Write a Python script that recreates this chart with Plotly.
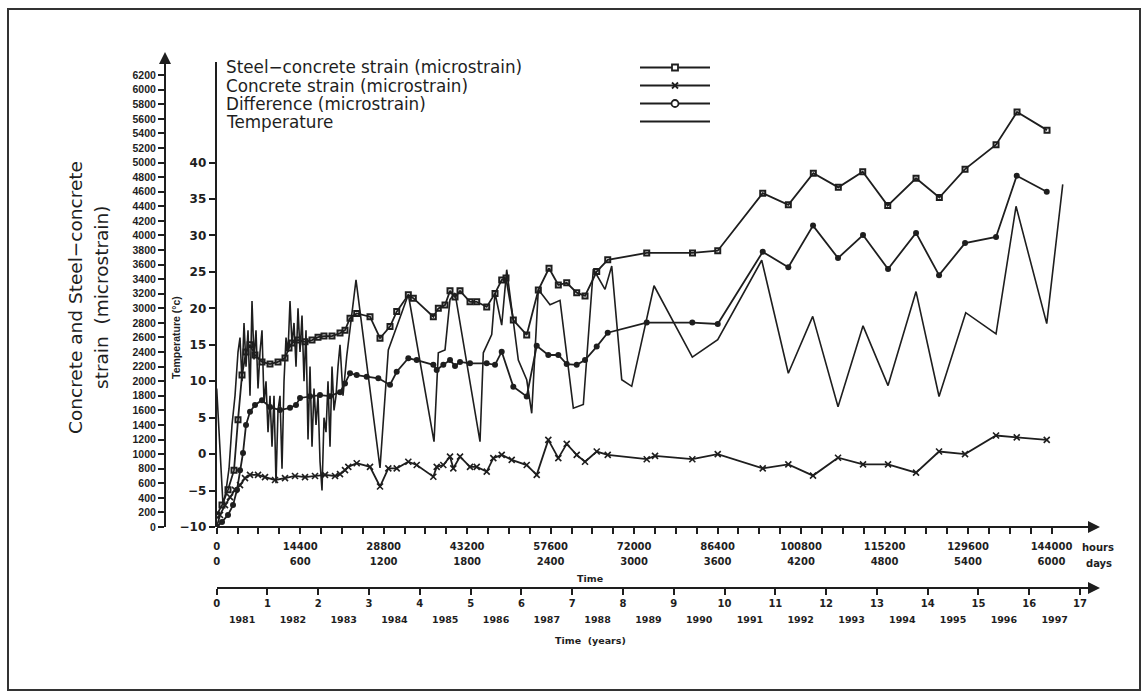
import plotly.graph_objects as go

# ---------------- data ----------------
# time in hours
steel_h = [0, 914, 1949, 2984, 3674, 4364, 5054, 5744, 6607, 7814, 9194, 10574, 11782, 12472,
           12990, 14024, 15232, 16439, 17474, 18509, 19889, 21269, 22132, 22994, 24150, 26444,
           28169, 29894, 31050, 33051, 33914, 37364, 38226, 39382, 40244, 41107, 41969, 43694,
           44850, 46575, 48007, 49163, 49904, 51163, 53475, 55476, 57322, 58926, 60375, 62100,
           63532, 65550, 67448, 74175, 82076, 86423, 94185, 98601, 102914, 107226, 111435,
           115748, 120629, 124649, 129082, 134429, 138052, 143227]
steel_s = [165, 300, 510, 780, 1470, 2085, 2400, 2500, 2360, 2265, 2235, 2265, 2320, 2455,
           2525, 2565, 2540, 2565, 2605, 2620, 2620, 2660, 2700, 2865, 2930, 2885,
           2590, 2750, 2955, 3185, 3140, 2885, 3000, 3045, 3240, 3155, 3240, 3090,
           3090, 3020, 3205, 3390, 3415, 2840, 2635, 3250, 3550, 3320, 3350, 3215,
           3170, 3505, 3665, 3760, 3760, 3790, 4580, 4420, 4855, 4660, 4875,
           4410, 4785, 4520, 4910, 5245, 5695, 5445]

diff_h = [0, 914, 1949, 2812, 3502, 4019, 4537, 5054, 5744, 6607, 7814, 9194, 10919, 12644,
          13679, 14369, 16094, 17819, 19544, 21269, 22132, 22994, 24150, 25875, 27876, 29894,
          31050, 33051, 34500, 37364, 37950, 39089, 40244, 41107, 41969, 43694, 46575, 48007,
          49163, 51163, 53475, 55200, 57201, 58926, 60375, 62100, 63532, 65550, 67448, 74175,
          82041, 86423, 94185, 98601, 102862, 107174, 111487, 115800, 120630, 124597, 129082,
          134429, 138000, 143175]
diff_s = [0, 70, 165, 300, 510, 780, 1015, 1400, 1580, 1675, 1740, 1645, 1605, 1635,
          1675, 1770, 1795, 1810, 1795, 1850, 1970, 2110, 2085, 2060, 2040, 1950,
          2130, 2315, 2290, 2225, 2155, 2225, 2290, 2210, 2265, 2245, 2245, 2225,
          2405, 1925, 1790, 2485, 2360, 2360, 2235, 2225, 2290, 2475, 2665, 2805,
          2805, 2785, 3775, 3565, 4135, 3690, 4005, 3540, 4035, 3455, 3895,
          3980, 4820, 4600]

conc_h = [0, 569, 1432, 2294, 3157, 4019, 4882, 5744, 7124, 8332, 10057, 11782, 13507, 15232,
          16957, 18682, 20407, 21269, 22132, 22701, 24150, 26444, 28169, 29601, 31050, 33051,
          34500, 37364, 37950, 39089, 40244, 40814, 41969, 43694, 44850, 46575, 47714, 49163,
          50888, 53475, 55200, 57201, 58926, 60375, 62100, 63532, 65550, 67448, 74175, 75607,
          82041, 86423, 94185, 98601, 102862, 107174, 111487, 115800, 120630, 124597, 129082,
          134429, 138000, 143175]
conc_s = [0, 165, 300, 410, 510, 575, 670, 715, 715, 685, 645, 670, 700, 685,
          700, 715, 700, 725, 780, 825, 875, 825, 555, 805, 805, 895,
          850, 690, 825, 850, 965, 805, 965, 825, 825, 760, 945, 990,
          920, 850, 715, 1195, 945, 1140, 990, 895, 1035, 990, 930, 975,
          930, 1000, 805, 860, 705, 950, 860, 860, 745, 1035, 1000,
          1255, 1230, 1195]

temp_h = [0, 397, 742, 1087, 1604, 2122, 2639, 3157, 3674, 4019, 4364, 4709, 5054, 5399,
          5744, 6089, 6434, 6779, 7124, 7469, 7814, 8159, 8504, 8849, 9194, 9539, 9884,
          10229, 10574, 10919, 11264, 11609, 11954, 12299, 12644, 12989, 13334, 13679, 14024,
          14369, 14714, 15059, 15404, 15749, 16094, 16439, 16784, 17129, 17474, 17819, 18164,
          18509, 18854, 19199, 19544, 19889, 20234, 20579, 20924, 21269, 21786, 22425, 24029,
          28169, 29601, 33051, 37484, 38226, 39382, 40244, 41107, 45419, 45988, 47438, 48007,
          49163, 50025, 52026, 53475, 54338, 55476, 57494, 59219, 61514, 63239, 64964, 66982,
          68138, 69863, 71588, 75434, 82041, 86423, 94013, 98601, 102810, 107174, 111487,
          115800, 120630, 124597, 129203, 134429, 137879, 143175, 145935]
temp_c = [9, 3, -3, -7, -5, -2, 4, 8, 14, 16, 10, 18, 12, 17,
          8, 21, 13, 17, 9, 14, 17, 7, 10, 3, 8, 1, 8,
          -4, 6, 8, -2, 10, 16, 14, 21, 15, 18, 12, 20,
          14, 19, 10, 17, 2, 12, 1, 9, 4, 8, -1, -5,
          5, 3, 10, 1, 12, 6, 8, 12, 15, 8, 13.4, 23.9,
          -1.9, 14.3, 21.9, 1.7, 13.9, 14.3, 21.2, 22.1, 1.7, 13.9, 16.4, 22.1,
          17.7, 25.3, 12.9, 10.2, 5.6, 22.6, 20.5, 21.1, 6.3, 6.8, 25.4, 22.6,
          25.8, 10.2, 9.3, 23.1, 13.3, 15.7, 26.6, 11.1, 18.9, 6.5, 17.6,
          9.4, 22.3, 7.9, 19.4, 16.5, 34.0, 17.9, 37.0]

strain_ticks = list(range(0, 6201, 200))
temp_ticks = list(range(-10, 41, 5))
hour_ticks = list(range(0, 144001, 3600))
hour_label_vals = list(range(0, 144001, 14400))
day_label_text = [str(h // 24) for h in hour_label_vals]
year_ticks = list(range(0, 18))
year_names = [str(y) for y in range(1981, 1998)]
year_mid = [i + 0.5 for i in range(0, 17)]

series_names = ["Steel\u2212concrete strain (microstrain)", "Concrete strain (microstrain)",
                "Difference (microstrain)", "Temperature"]

# ---------------- figure ----------------
INK = "#1e1e1e"
HMAX = 151500
SMAX = 6380
XDOM0 = 0.0556
YDOM0 = 0.116

fig = go.Figure()
fig.add_trace(go.Scatter(x=temp_h, y=temp_c, mode="lines", yaxis="y2", name=series_names[3],
                         line=dict(color=INK, width=1.6)))
fig.add_trace(go.Scatter(x=steel_h, y=steel_s, mode="lines+markers", name=series_names[0],
                         line=dict(color=INK, width=1.8),
                         marker=dict(symbol="square-open", size=5, color=INK, line=dict(width=2, color=INK))))
fig.add_trace(go.Scatter(x=diff_h, y=diff_s, mode="lines+markers", name=series_names[2],
                         line=dict(color=INK, width=1.8),
                         marker=dict(symbol="circle", size=6, color=INK)))
fig.add_trace(go.Scatter(x=conc_h, y=conc_s, mode="lines+markers", name=series_names[1],
                         line=dict(color=INK, width=1.8),
                         marker=dict(symbol="x-thin", size=6, color=INK, line=dict(width=1.6, color=INK))))
# empty traces so the extra axes exist
fig.add_trace(go.Scatter(x=[], y=[], xaxis="x2", showlegend=False))
fig.add_trace(go.Scatter(x=[], y=[], xaxis="x3", showlegend=False))
fig.add_trace(go.Scatter(x=[], y=[], xaxis="x4", showlegend=False))

tick_font_bold = dict(family="DejaVu Sans", size=10, color=INK, weight="bold")

fig.update_layout(
    width=1148, height=697,
    margin=dict(l=165, r=53, t=62, b=109),
    paper_bgcolor="white", plot_bgcolor="white",
    showlegend=False,
    # hours axis
    xaxis=dict(domain=[XDOM0, 1], range=[0, HMAX], anchor="free", position=YDOM0,
               showline=True, linecolor=INK, linewidth=2, showgrid=False, zeroline=False,
               tickmode="array", tickvals=hour_ticks,
               ticktext=[str(t) if t % 14400 == 0 else "" for t in hour_ticks],
               ticks="outside", ticklen=6, tickwidth=1.5, tickcolor=INK, tickangle=0,
               ticklabelstandoff=4, tickfont=tick_font_bold),
    # days labels (same scale, second row)
    xaxis4=dict(overlaying="x", range=[0, HMAX], anchor="free", position=YDOM0,
                showline=False, showgrid=False, zeroline=False,
                tickmode="array", tickvals=hour_label_vals, ticktext=day_label_text,
                ticks="", ticklabelstandoff=27, tickangle=0, tickfont=tick_font_bold),
    # years axis
    xaxis2=dict(overlaying="x", range=[0, HMAX / 8760], anchor="free", position=0,
                showline=True, linecolor=INK, linewidth=2, showgrid=False, zeroline=False,
                tickmode="array", tickvals=year_ticks, ticktext=[str(t) for t in year_ticks],
                ticks="outside", ticklen=6, tickwidth=1.5, tickcolor=INK, tickangle=0,
                tickfont=tick_font_bold),
    xaxis3=dict(overlaying="x", range=[0, HMAX / 8760], anchor="free", position=0,
                showline=False, showgrid=False, zeroline=False,
                tickmode="array", tickvals=year_mid, ticktext=year_names,
                ticks="", ticklabelstandoff=24, tickangle=0,
                tickfont=dict(family="DejaVu Sans", size=9.5, color=INK, weight="bold")),
    yaxis=dict(domain=[YDOM0, 1], range=[0, SMAX], anchor="free", position=0,
               showline=True, linecolor=INK, linewidth=2, showgrid=False, zeroline=False,
               tickmode="array", tickvals=strain_ticks,
               ticks="outside", ticklen=6, tickwidth=1.5, tickcolor=INK,
               tickfont=dict(family="Liberation Sans", size=10.5, color=INK, weight="bold")),
    yaxis2=dict(overlaying="y", range=[-10, SMAX / 100 - 10], anchor="x", side="left",
                showline=True, linecolor=INK, linewidth=2, showgrid=False, zeroline=False,
                tickmode="array", tickvals=temp_ticks,
                ticks="outside", ticklen=6, tickwidth=1.5, tickcolor=INK,
                tickfont=dict(family="DejaVu Sans", size=12, color=INK, weight="bold")),
)

W = 1148 - 165 - 53
H = 697 - 62 - 109


def px(xp):
    return (xp - 165) / W


def py(yp):
    return (588 - yp) / H


ann = []
# axis arrows
ann.append(dict(xref="paper", yref="paper", x=0, y=py(52), ax=0, ay=14, text="",
                showarrow=True, arrowhead=2, arrowsize=1.2, arrowwidth=2, arrowcolor=INK))
ann.append(dict(xref="paper", yref="paper", x=px(1100), y=YDOM0, ax=-14, ay=0, text="",
                showarrow=True, arrowhead=2, arrowsize=1.2, arrowwidth=2, arrowcolor=INK))
ann.append(dict(xref="paper", yref="paper", x=px(1100), y=0, ax=-14, ay=0, text="",
                showarrow=True, arrowhead=2, arrowsize=1.2, arrowwidth=2, arrowcolor=INK))
# axis titles
title_font = dict(family="DejaVu Sans", size=18.5, color=INK)
ann.append(dict(xref="paper", yref="paper", x=px(75), y=py(298), text="Concrete and Steel\u2212concrete",
                textangle=-90, showarrow=False, xanchor="center", yanchor="middle", font=title_font))
ann.append(dict(xref="paper", yref="paper", x=px(101), y=py(298), text="strain  (microstrain)",
                textangle=-90, showarrow=False, xanchor="center", yanchor="middle", font=title_font))
ann.append(dict(xref="paper", yref="paper", x=px(176), y=py(338), text="Temperature (\u00b0c)",
                textangle=-90, showarrow=False, xanchor="center", yanchor="middle",
                font=dict(family="Liberation Sans", size=10.5, color=INK, weight="bold")))
small_bold = dict(family="DejaVu Sans", size=9.5, color=INK, weight="bold")
ann.append(dict(xref="paper", yref="paper", x=px(590), y=py(578), text="Time", showarrow=False,
                xanchor="center", yanchor="middle", font=small_bold))
ann.append(dict(xref="paper", yref="paper", x=px(590), y=py(640), text="Time  (years)", showarrow=False,
                xanchor="center", yanchor="middle", font=small_bold))
ann.append(dict(xref="paper", yref="paper", x=px(1080), y=py(547), text="hours", xanchor="left",
                yanchor="middle", showarrow=False, font=tick_font_bold))
ann.append(dict(xref="paper", yref="paper", x=px(1084), y=py(563), text="days", xanchor="left",
                yanchor="middle", showarrow=False, font=tick_font_bold))
# legend text (text first, key on the right, as in the original)
leg_font = dict(family="DejaVu Sans", size=16.8, color=INK)
leg_rows = [67.5, 85.5, 103.5, 121.5]
for name, yr in zip(series_names, leg_rows):
    ann.append(dict(xref="paper", yref="paper", x=px(224), y=py(yr), text=name, xanchor="left",
                    yanchor="middle", showarrow=False, font=leg_font))
fig.update_layout(annotations=ann)

shapes = []
# outer frame
shapes.append(dict(type="rect", xref="paper", yref="paper", x0=px(8), x1=px(1140), y0=py(690), y1=py(9),
                   line=dict(color="#333", width=2)))
# legend keys
kx0, kx1, kxm = px(640), px(710), px(675)
for yr in leg_rows:
    shapes.append(dict(type="line", xref="paper", yref="paper", x0=kx0, x1=kx1, y0=py(yr), y1=py(yr),
                       line=dict(color=INK, width=1.8)))
shapes.append(dict(type="rect", xref="paper", yref="paper", xsizemode="pixel", ysizemode="pixel",
                   xanchor=kxm, yanchor=py(leg_rows[0]), x0=-3, x1=3, y0=-3, y1=3,
                   fillcolor="white", line=dict(color=INK, width=1.8)))
for d in (1, -1):
    shapes.append(dict(type="line", xref="paper", yref="paper", xsizemode="pixel", ysizemode="pixel",
                       xanchor=kxm, yanchor=py(leg_rows[1]), x0=-3, x1=3, y0=-3 * d, y1=3 * d,
                       line=dict(color=INK, width=1.8)))
shapes.append(dict(type="circle", xref="paper", yref="paper", xsizemode="pixel", ysizemode="pixel",
                   xanchor=kxm, yanchor=py(leg_rows[2]), x0=-3.5, x1=3.5, y0=-3.5, y1=3.5,
                   fillcolor="white", line=dict(color=INK, width=1.8)))
fig.update_layout(shapes=shapes)

fig.write_html("out.html")
